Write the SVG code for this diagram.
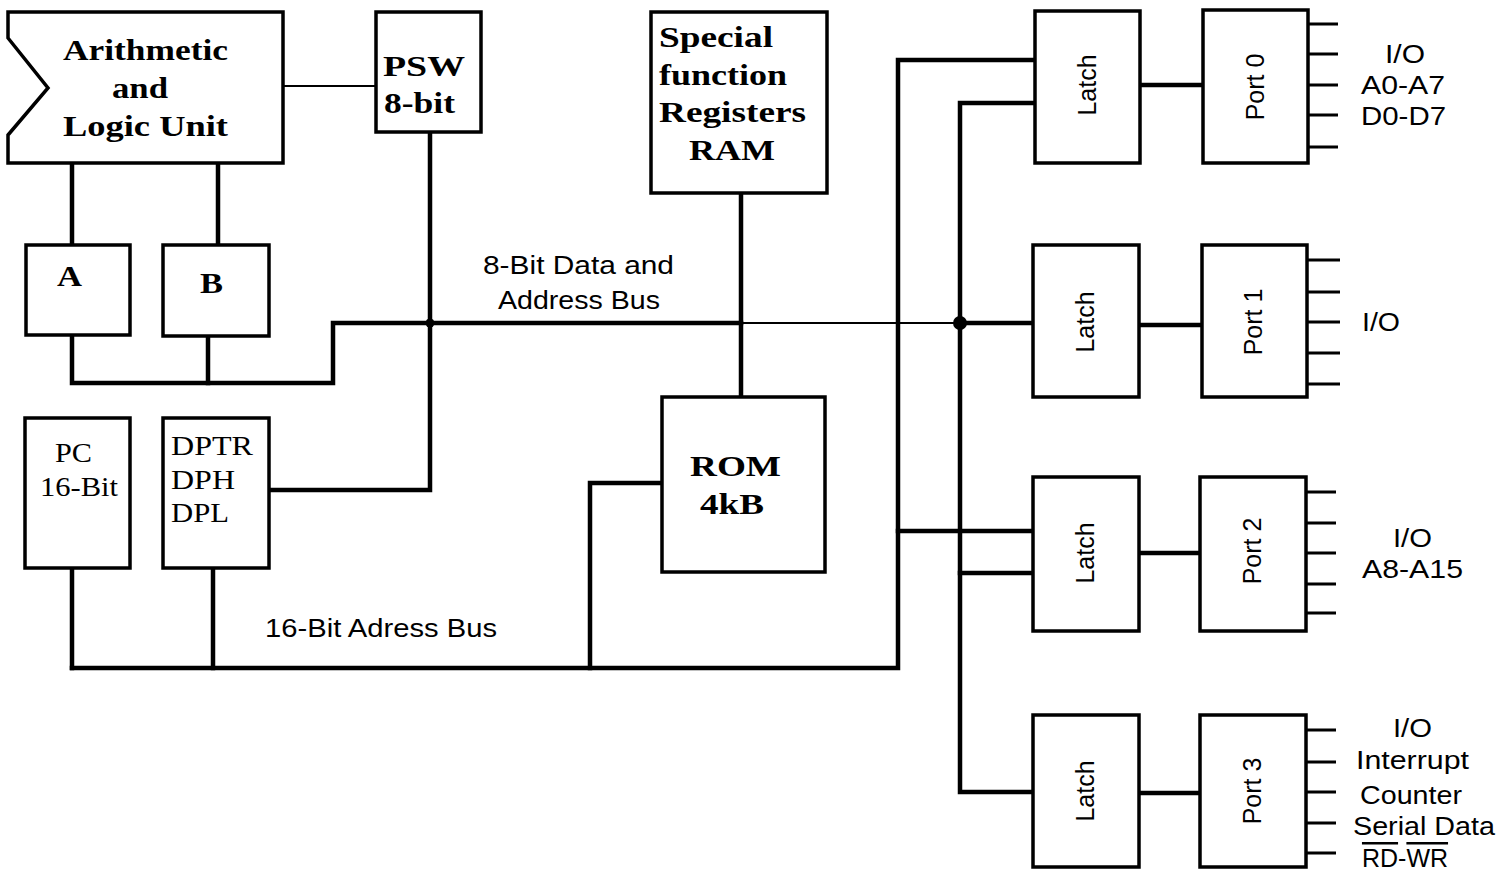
<svg xmlns="http://www.w3.org/2000/svg" width="1502" height="871" viewBox="0 0 1502 871">
<style>
.box{fill:#fff;stroke:#000;stroke-width:3.5}
.w{stroke:#000;stroke-width:4.5;fill:none;stroke-linecap:square}
.t{stroke:#000;stroke-width:2;fill:none}
.pin{stroke:#000;stroke-width:3;fill:none}
.sb{font-family:"Liberation Serif",serif;font-weight:bold;font-size:30px;fill:#000}
.sr{font-family:"Liberation Serif",serif;font-size:28px;fill:#000}
.ss{font-family:"Liberation Sans",sans-serif;font-size:25px;fill:#000}
.ol{text-decoration:overline}
</style>
<rect width="1502" height="871" fill="#fff"/>
<g id="connectors">
<line class="t" x1="283" y1="86" x2="376" y2="86"/>
<polyline class="w" points="430,132 430,490 269,490"/>
<line class="w" x1="72" y1="163" x2="72" y2="245"/>
<line class="w" x1="218" y1="163" x2="218" y2="245"/>
<polyline class="w" points="72,335 72,383 333,383 333,323 741,323"/>
<line class="w" x1="208" y1="336" x2="208" y2="383"/>
<line class="t" x1="741" y1="323" x2="960" y2="323"/>
<line class="w" x1="960" y1="323" x2="1033" y2="323"/>
<line class="w" x1="741" y1="193" x2="741" y2="397"/>
<circle cx="430" cy="323" r="4.5"/>
<circle cx="960" cy="323" r="7"/>
<line class="w" x1="72" y1="568" x2="72" y2="668"/>
<line class="w" x1="213" y1="568" x2="213" y2="668"/>
<polyline class="w" points="72,668 898,668 898,60 1035,60"/>
<polyline class="w" points="590,668 590,483 662,483"/>
<polyline class="w" points="1035,103 960,103 960,792 1033,792"/>
<line class="w" x1="898" y1="531" x2="1033" y2="531"/>
<line class="w" x1="960" y1="573" x2="1033" y2="573"/>
<line class="w" x1="1140" y1="85" x2="1203" y2="85"/>
<line class="w" x1="1139" y1="325" x2="1202" y2="325"/>
<line class="w" x1="1139" y1="553" x2="1200" y2="553"/>
<line class="w" x1="1139" y1="793" x2="1200" y2="793"/>
<g class="pin">
<path d="M1308 24h30M1308 54h30M1308 85h30M1308 115h30M1308 147h30"/>
<path d="M1307 260h33M1307 292h33M1307 322h33M1307 353h33M1307 384h33"/>
<path d="M1306 492h30M1306 523h30M1306 553h30M1306 584h30M1306 613h30"/>
<path d="M1306 730h30M1306 762h30M1306 792h30M1306 823h30M1306 853h30"/>
</g>
</g>
<g id="alu">
<path class="box" d="M8,12 H283 V163 H8 V135 L48,88 L8,38 Z"/>
<text class="sb" x="63" y="60" textLength="165" lengthAdjust="spacingAndGlyphs">Arithmetic</text>
<text class="sb" x="112" y="98" textLength="56" lengthAdjust="spacingAndGlyphs">and</text>
<text class="sb" x="63" y="136" textLength="165" lengthAdjust="spacingAndGlyphs">Logic Unit</text>
</g>
<g id="psw">
<rect class="box" x="376" y="12" width="105" height="120"/>
<text class="sb" x="383" y="76" textLength="82" lengthAdjust="spacingAndGlyphs">PSW</text>
<text class="sb" x="384" y="113" textLength="71" lengthAdjust="spacingAndGlyphs">8-bit</text>
</g>
<g id="sfr">
<rect class="box" x="651" y="12" width="176" height="181"/>
<text class="sb" x="659" y="47" textLength="114" lengthAdjust="spacingAndGlyphs">Special</text>
<text class="sb" x="659" y="85" textLength="128" lengthAdjust="spacingAndGlyphs">function</text>
<text class="sb" x="659" y="122" textLength="147" lengthAdjust="spacingAndGlyphs">Registers</text>
<text class="sb" x="689" y="160" textLength="86" lengthAdjust="spacingAndGlyphs">RAM</text>
</g>
<g id="regA">
<rect class="box" x="26" y="245" width="104" height="90"/>
<text class="sb" x="57" y="286" textLength="25" lengthAdjust="spacingAndGlyphs">A</text>
</g>
<g id="regB">
<rect class="box" x="163" y="245" width="106" height="91"/>
<text class="sb" x="200" y="293" textLength="23" lengthAdjust="spacingAndGlyphs">B</text>
</g>
<g id="pc">
<rect class="box" x="25" y="418" width="105" height="150"/>
<text class="sr" x="55" y="462" textLength="37" lengthAdjust="spacingAndGlyphs">PC</text>
<text class="sr" x="40" y="496" textLength="78" lengthAdjust="spacingAndGlyphs">16-Bit</text>
</g>
<g id="dptr">
<rect class="box" x="163" y="418" width="106" height="150"/>
<text class="sr" x="171" y="455" textLength="82" lengthAdjust="spacingAndGlyphs">DPTR</text>
<text class="sr" x="171" y="489" textLength="64" lengthAdjust="spacingAndGlyphs">DPH</text>
<text class="sr" x="171" y="522" textLength="58" lengthAdjust="spacingAndGlyphs">DPL</text>
</g>
<g id="rom">
<rect class="box" x="662" y="397" width="163" height="175"/>
<text class="sb" x="690" y="476" textLength="91" lengthAdjust="spacingAndGlyphs">ROM</text>
<text class="sb" x="700" y="514" textLength="64" lengthAdjust="spacingAndGlyphs">4kB</text>
</g>
<g id="labels">
<text class="ss" x="483" y="274" textLength="191" lengthAdjust="spacingAndGlyphs">8-Bit Data and</text>
<text class="ss" x="498" y="309" textLength="162" lengthAdjust="spacingAndGlyphs">Address Bus</text>
<text class="ss" x="265" y="637" textLength="232" lengthAdjust="spacingAndGlyphs">16-Bit Adress Bus</text>
</g>
<g id="latch0">
<rect class="box" x="1035" y="11" width="105" height="152"/>
<text class="ss" transform="translate(1096,85) rotate(-90)" text-anchor="middle">Latch</text>
</g>
<g id="latch1">
<rect class="box" x="1033" y="245" width="106" height="152"/>
<text class="ss" transform="translate(1094,322) rotate(-90)" text-anchor="middle">Latch</text>
</g>
<g id="latch2">
<rect class="box" x="1033" y="477" width="106" height="154"/>
<text class="ss" transform="translate(1094,553) rotate(-90)" text-anchor="middle">Latch</text>
</g>
<g id="latch3">
<rect class="box" x="1033" y="715" width="106" height="152"/>
<text class="ss" transform="translate(1094,791) rotate(-90)" text-anchor="middle">Latch</text>
</g>
<g id="port0">
<rect class="box" x="1203" y="10" width="105" height="153"/>
<text class="ss" transform="translate(1264,87) rotate(-90)" text-anchor="middle">Port 0</text>
<text class="ss" x="1385" y="63" textLength="40" lengthAdjust="spacingAndGlyphs">I/O</text>
<text class="ss" x="1361" y="94" textLength="84" lengthAdjust="spacingAndGlyphs">A0-A7</text>
<text class="ss" x="1361" y="125" textLength="85" lengthAdjust="spacingAndGlyphs">D0-D7</text>
</g>
<g id="port1">
<rect class="box" x="1202" y="245" width="105" height="152"/>
<text class="ss" transform="translate(1262,322) rotate(-90)" text-anchor="middle">Port 1</text>
<text class="ss" x="1362" y="331" textLength="38" lengthAdjust="spacingAndGlyphs">I/O</text>
</g>
<g id="port2">
<rect class="box" x="1200" y="477" width="106" height="154"/>
<text class="ss" transform="translate(1261,551) rotate(-90)" text-anchor="middle">Port 2</text>
<text class="ss" x="1393" y="547" textLength="39" lengthAdjust="spacingAndGlyphs">I/O</text>
<text class="ss" x="1362" y="578" textLength="101" lengthAdjust="spacingAndGlyphs">A8-A15</text>
</g>
<g id="port3">
<rect class="box" x="1200" y="715" width="106" height="152"/>
<text class="ss" transform="translate(1261,791) rotate(-90)" text-anchor="middle">Port 3</text>
<text class="ss" x="1393" y="737" textLength="39" lengthAdjust="spacingAndGlyphs">I/O</text>
<text class="ss" x="1356" y="769" textLength="113" lengthAdjust="spacingAndGlyphs">Interrupt</text>
<text class="ss" x="1360" y="804" textLength="102" lengthAdjust="spacingAndGlyphs">Counter</text>
<text class="ss" x="1353" y="835" textLength="142" lengthAdjust="spacingAndGlyphs">Serial Data</text>
<text class="ss" x="1405" y="867" font-size="22" text-anchor="middle"><tspan class="ol">RD</tspan>-<tspan class="ol">WR</tspan></text>
</g>
</svg>
